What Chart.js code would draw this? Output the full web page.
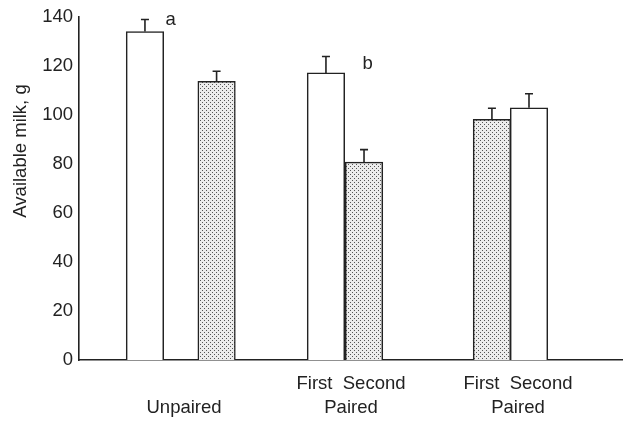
<!DOCTYPE html>
<html>
<head>
<meta charset="utf-8">
<script src="https://cdn.jsdelivr.net/npm/chart.js"></script>
<style>
  body { margin: 0; background: #fff; }
  #wrap { width: 624px; height: 421px; }
</style>
</head>
<body>
<div id="wrap"><canvas id="milk" width="624" height="421"></canvas></div>
<script>
// data
const groups = [['', 'Unpaired'], ['First  Second', 'Paired'], ['First  Second', 'Paired']];
const milk = [134.1, 113.8, 117.2, 80.8, 98.3, 103.0];   // mean available milk, g
const sem = [4.9, 4.1, 6.7, 5.1, 4.5, 5.7];              // error bar (upper only)
const letters = ['a', '', 'b', '', '', ''];
const yTicks = [0, 20, 40, 60, 80, 100, 120, 140];

// layout: where each bar sits along the x axis (group units), and its fill
const barX = [0.766, 1.195, 1.85, 2.078, 2.844, 3.066];
const fills = ['open', 'dotted', 'open', 'dotted', 'dotted', 'open'];
const letterPos = [[0.92, 139], null, [2.10, 121], null, null, null];

const FONT = '"Liberation Sans", Arial, Helvetica, sans-serif';
const FSIZE = 18.5;
const INK = '#222';

const canvas = document.getElementById('milk');
const ctx = canvas.getContext('2d');

// stippled fill
function dots() {
  const p = document.createElement('canvas');
  p.width = 4; p.height = 4;
  const c = p.getContext('2d');
  c.fillStyle = '#ececec';
  c.fillRect(0, 0, 4, 4);
  c.fillStyle = '#555';
  c.fillRect(0, 0, 1, 1);
  c.fillRect(2, 2, 1, 1);
  return ctx.createPattern(p, 'repeat');
}
const dotted = dots();

const errorBars = {
  id: 'errorBars',
  afterDatasetsDraw(chart) {
    const meta = chart.getDatasetMeta(0);
    const y = chart.scales.y, x = chart.scales.x;
    const c = chart.ctx;
    c.save();
    c.strokeStyle = INK;
    c.lineWidth = 1.6;
    meta.data.forEach((bar, i) => {
      const top = y.getPixelForValue(milk[i] + sem[i]);
      c.beginPath();
      c.moveTo(bar.x, bar.y);
      c.lineTo(bar.x, top);
      c.moveTo(bar.x - 4, top);
      c.lineTo(bar.x + 4, top);
      c.stroke();
    });
    // significance letters
    c.fillStyle = INK;
    c.font = FSIZE + 'px ' + FONT;
    c.textAlign = 'center';
    c.textBaseline = 'middle';
    letters.forEach((t, i) => {
      if (!t || !letterPos[i]) return;
      c.fillText(t, x.getPixelForValue(letterPos[i][0]), y.getPixelForValue(letterPos[i][1]));
    });
    // y axis title
    c.translate(21, 151);
    c.rotate(-Math.PI / 2);
    c.fillText('Available milk, g', 0, 0);
    c.restore();
  }
};

new Chart(ctx, {
  type: 'bar',
  data: {
    datasets: [{
      data: milk.map((v, i) => ({ x: barX[i], y: v })),
      backgroundColor: fills.map(f => f === 'dotted' ? dotted : '#fff'),
      borderColor: INK,
      borderWidth: 1.5,
      borderSkipped: 'bottom',
      barThickness: 37.5
    }]
  },
  options: {
    responsive: false,
    animation: false,
    devicePixelRatio: 1,
    layout: { padding: { top: 16, right: 2, left: 0, bottom: 0 } },
    plugins: { legend: { display: false }, tooltip: { enabled: false } },
    scales: {
      x: {
        type: 'linear',
        offset: false,
        bounds: 'data',
        min: 0.371,
        max: 3.623,
        grid: { display: false, drawTicks: false, offset: false },
        border: { display: true, color: INK, width: 1.6 },
        afterDataLimits: s => { s.min = 0.371; s.max = 3.623; },
        afterBuildTicks: s => { s.ticks = groups.map((g, i) => ({ value: i + 1 })); },
        afterFit: s => { s.height = 61; },
        ticks: {
          autoSkip: false,
          maxRotation: 0,
          padding: 12,
          color: INK,
          font: { family: FONT, size: FSIZE, lineHeight: 1.3 },
          callback: (v, i) => groups[i]
        }
      },
      y: {
        min: 0,
        max: 140,
        grid: { display: false, drawTicks: false },
        border: { display: true, color: INK, width: 1.6 },
        afterBuildTicks: s => { s.ticks = yTicks.map(v => ({ value: v })); },
        afterFit: s => { s.width = 79; },
        ticks: {
          padding: 6,
          color: INK,
          font: { family: FONT, size: FSIZE }
        }
      }
    }
  },
  plugins: [errorBars]
});
</script>
</body>
</html>
